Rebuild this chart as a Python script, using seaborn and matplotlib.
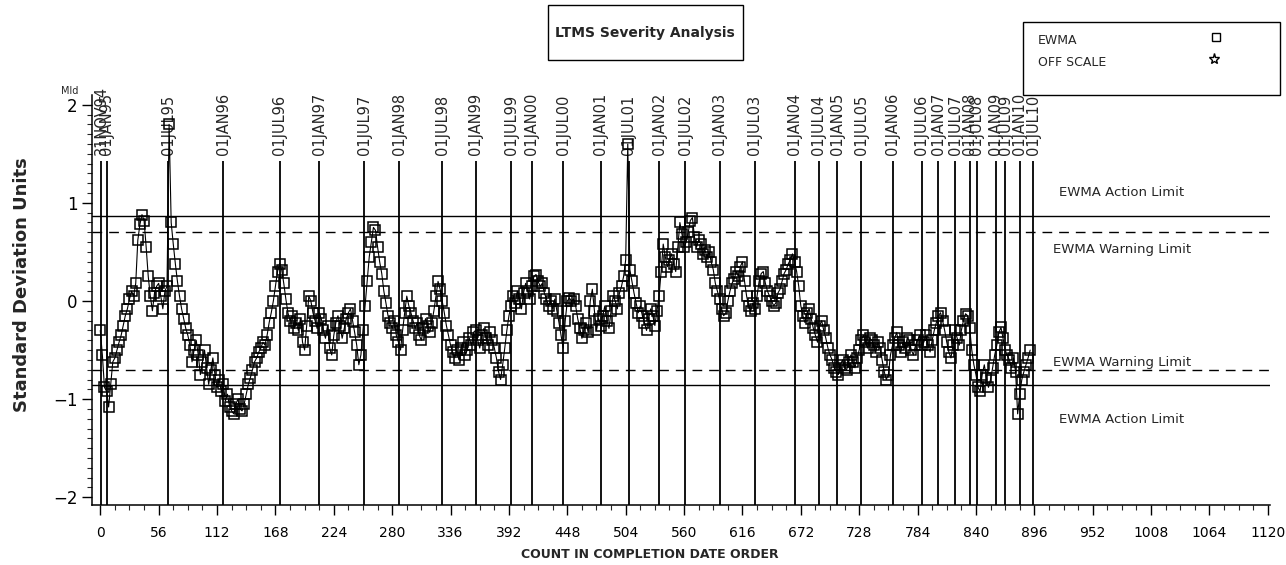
import pandas as pd
import seaborn as sns
import matplotlib.pyplot as plt
from matplotlib.lines import Line2D
from matplotlib.patches import Rectangle

# EWMA severity (std dev units), every 2 tests
count = list(range(0, 893, 2))
ewma = [
    # 0 - 38
    -0.30, -0.55, -0.88, -0.92, -1.08, -0.85, -0.62, -0.58, -0.50, -0.42,
    -0.35, -0.25, -0.15, -0.08, 0.02, 0.10, 0.05, 0.18, 0.62, 0.78,
    # 40 - 78 (spike at 66)
    0.88, 0.82, 0.55, 0.25, 0.05, -0.10, 0.08, 0.15, 0.18, 0.05,
    -0.08, 0.10, 0.15, 1.80, 0.80, 0.58, 0.38, 0.20, 0.05, -0.08,
    # 80 - 118
    -0.18, -0.28, -0.35, -0.45, -0.62, -0.50, -0.40, -0.55, -0.75, -0.62,
    -0.50, -0.68, -0.85, -0.70, -0.58, -0.75, -0.88, -0.80, -0.92, -0.85,
    # 120 - 158
    -1.02, -0.95, -1.08, -1.12, -1.15, -1.05, -1.00, -1.10, -1.12, -1.05,
    -0.95, -0.85, -0.78, -0.70, -0.62, -0.58, -0.52, -0.48, -0.42, -0.45,
    # 160 - 198
    -0.35, -0.22, -0.12, 0.00, 0.15, 0.30, 0.38, 0.32, 0.18, 0.02,
    -0.12, -0.20, -0.15, -0.28, -0.22, -0.30, -0.18, -0.42, -0.50, -0.25,
    # 200 - 238
    0.05, 0.00, -0.12, -0.20, -0.28, -0.12, -0.18, -0.30, -0.38, -0.25,
    -0.48, -0.55, -0.35, -0.22, -0.15, -0.25, -0.38, -0.28, -0.18, -0.12,
    # 240 - 278
    -0.08, -0.20, -0.32, -0.45, -0.65, -0.55, -0.30, -0.05, 0.20, 0.45,
    0.60, 0.75, 0.72, 0.55, 0.40, 0.28, 0.10, -0.02, -0.15, -0.22,
    # 280 - 318
    -0.28, -0.20, -0.35, -0.42, -0.50, -0.30, -0.12, 0.05, -0.05, -0.12,
    -0.20, -0.28, -0.22, -0.35, -0.40, -0.28, -0.18, -0.25, -0.32, -0.22,
    # 320 - 358
    -0.10, 0.05, 0.20, 0.12, 0.00, -0.12, -0.25, -0.35, -0.45, -0.52,
    -0.58, -0.50, -0.60, -0.48, -0.42, -0.55, -0.50, -0.38, -0.45, -0.32,
    # 360 - 398
    -0.30, -0.40, -0.48, -0.35, -0.28, -0.38, -0.45, -0.32, -0.40, -0.48,
    -0.58, -0.72, -0.80, -0.65, -0.48, -0.30, -0.15, -0.05, 0.05, -0.02,
    # 400 - 438
    0.10, 0.02, -0.08, 0.08, 0.18, 0.10, 0.02, 0.15, 0.25, 0.27,
    0.20, 0.15, 0.18, 0.08, 0.02, -0.05, 0.00, -0.08, 0.02, -0.10,
    # 440 - 478
    -0.22, -0.35, -0.48, -0.20, 0.00, 0.03, 0.00, 0.02, -0.05, -0.18,
    -0.28, -0.38, -0.30, -0.22, -0.32, 0.00, 0.12, -0.10, -0.30, -0.18,
    # 480 - 518 (spike at 506)
    -0.25, -0.15, -0.05, -0.20, -0.28, -0.10, 0.05, 0.00, -0.08, 0.08,
    0.15, 0.25, 0.42, 1.60, 0.32, 0.20, 0.08, -0.02, -0.12, -0.05,
    # 520 - 558
    -0.15, -0.22, -0.30, -0.18, -0.08, -0.15, -0.25, -0.10, 0.05, 0.30,
    0.58, 0.45, 0.35, 0.42, 0.48, 0.38, 0.30, 0.55, 0.80, 0.68,
    # 560 - 598
    0.55, 0.60, 0.70, 0.82, 0.85, 0.65, 0.55, 0.62, 0.58, 0.48,
    0.52, 0.45, 0.50, 0.40, 0.32, 0.18, 0.10, 0.02, -0.08, -0.15,
    # 600 - 638
    -0.12, 0.00, 0.10, 0.18, 0.22, 0.30, 0.25, 0.35, 0.40, 0.20,
    0.05, -0.05, -0.10, -0.02, -0.08, 0.05, 0.20, 0.28, 0.30, 0.18,
    # 640 - 678
    0.10, 0.05, 0.00, -0.05, -0.02, 0.08, 0.12, 0.20, 0.28, 0.32,
    0.38, 0.42, 0.48, 0.40, 0.30, 0.15, -0.05, -0.15, -0.22, -0.12,
    # 680 - 718
    -0.08, -0.18, -0.28, -0.35, -0.42, -0.25, -0.20, -0.30, -0.38, -0.48,
    -0.55, -0.60, -0.68, -0.72, -0.75, -0.65, -0.60, -0.68, -0.70, -0.62,
    # 720 - 758
    -0.55, -0.62, -0.68, -0.58, -0.50, -0.40, -0.35, -0.42, -0.48, -0.38,
    -0.40, -0.45, -0.52, -0.42, -0.48, -0.60, -0.72, -0.80, -0.75, -0.55,
    # 760 - 798
    -0.45, -0.38, -0.32, -0.45, -0.52, -0.42, -0.48, -0.38, -0.40, -0.50,
    -0.55, -0.45, -0.40, -0.35, -0.45, -0.42, -0.35, -0.45, -0.52, -0.40,
    # 800 - 838
    -0.30, -0.22, -0.15, -0.12, -0.20, -0.30, -0.42, -0.52, -0.58, -0.45,
    -0.30, -0.38, -0.45, -0.30, -0.20, -0.13, -0.15, -0.28, -0.50, -0.65,
    # 840 - 878
    -0.75, -0.88, -0.92, -0.75, -0.65, -0.78, -0.88, -0.80, -0.68, -0.55,
    -0.45, -0.32, -0.27, -0.38, -0.50, -0.55, -0.60, -0.68, -0.58, -0.72,
    # 880 - 892
    -1.15, -0.95, -0.80, -0.72, -0.65, -0.58, -0.50,
]

# calendar reference lines
date_count = [1, 6, 65, 118, 172, 210, 253, 287, 328, 360, 394, 414, 444,
              480, 507, 536, 561, 594, 628, 666, 689, 707, 730, 760, 788,
              804, 820, 834, 841, 859, 868, 882, 895]
date_label = ['31NOV94', '01JAN95', '01JUL95', '01JAN96', '01JUL96', '01JAN97',
              '01JUL97', '01JAN98', '01JUL98', '01JAN99', '01JUL99', '01JAN00',
              '01JUL00', '01JAN01', '01JUL01', '01JAN02', '01JUL02', '01JAN03',
              '01JUL03', '01JAN04', '01JUL04', '01JAN05', '01JUL05', '01JAN06',
              '01JUL06', '01JAN07', '01JUL07', '01JAN08', '01JUL08', '01JAN09',
              '01JUL09', '01JAN10', '01JUL10']

limit_value = [0.87, 0.70, -0.70, -0.86]
limit_name = ['EWMA Action Limit', 'EWMA Warning Limit', 'EWMA Warning Limit', 'EWMA Action Limit']
limit_style = ['-', '--', '--', '-']
limit_text_y = [1.11, 0.52, -0.63, -1.21]

x_ticks = list(range(0, 1121, 56))
y_ticks = [-2, -1, 0, 1, 2]

sns.set_style('ticks')
plt.rcParams['font.family'] = ['DejaVu Sans']

fig = plt.figure(figsize=(12.86, 5.65), dpi=100)
ax = fig.add_axes([0.0715, 0.106, 0.916, 0.726])

df = pd.DataFrame({'count': count, 'ewma': ewma})

# date lines behind the data
ax.vlines(date_count, -2.08, 1.43, color='black', lw=1.3, zorder=1)
for x, lab in zip(date_count, date_label):
    ax.text(x, 1.49, lab, rotation=90, ha='center', va='bottom', fontsize=10.5)

for v, st in zip(limit_value, limit_style):
    if st == '--':
        ax.axhline(v, color='black', lw=1, ls=(0, (7, 5)), zorder=1)
    else:
        ax.axhline(v, color='black', lw=1, zorder=1)
for name, ty in zip(limit_name, limit_text_y):
    ax.text(980, ty, name, ha='center', va='center', fontsize=9.5)

sns.lineplot(data=df, x='count', y='ewma', ax=ax, estimator=None, color='black',
             linewidth=0.8, marker='s', markersize=6.5, markerfacecolor='none',
             markeredgecolor='black', markeredgewidth=1.1, zorder=3)

ax.set_xlim(-8, 1122)
ax.set_ylim(-2.08, 2.1)
ax.set_xticks(x_ticks)
ax.set_xticks(list(range(0, 1121, 14)), minor=True)
ax.set_yticks(y_ticks)
ax.set_yticks([i / 10 for i in range(-20, 21)], minor=True)
ax.tick_params(axis='both', which='major', direction='out', length=7, width=1, colors='black')
ax.tick_params(axis='both', which='minor', direction='out', length=3.5, width=0.8)
ax.tick_params(axis='x', labelsize=10, pad=8)
ax.tick_params(axis='y', labelsize=12)
sns.despine(ax=ax)
for s in ['left', 'bottom']:
    ax.spines[s].set_color('black')
    ax.spines[s].set_linewidth(1.1)

ax.set_ylabel('')
ax.set_xlabel('COUNT IN COMPLETION DATE ORDER', fontsize=9, fontweight='bold')
ax.xaxis.set_label_coords(0.474, -0.105)
ax.text(-0.019, 0.997, 'Mld', transform=ax.transAxes, fontsize=7, ha='center', va='bottom')

fig.text(22 / 1286, 1 - 285 / 565, 'Standard Deviation Units', rotation=90,
         ha='center', va='center', fontsize=13, fontweight='bold')

# title box
fig.add_artist(Rectangle((548 / 1286, 1 - 60 / 565), 195 / 1286, 55 / 565,
                         transform=fig.transFigure, fill=False, edgecolor='black', lw=1))
fig.text(645 / 1286, 1 - 33 / 565, 'LTMS Severity Analysis', ha='center', va='center',
         fontsize=10, fontweight='bold')

# legend box
fig.add_artist(Rectangle((1023 / 1286, 1 - 95 / 565), 257 / 1286, 73 / 565,
                         transform=fig.transFigure, fill=False, edgecolor='black', lw=1))
fig.text(1038 / 1286, 1 - 40 / 565, 'EWMA', ha='left', va='center', fontsize=9)
fig.text(1038 / 1286, 1 - 62 / 565, 'OFF SCALE', ha='left', va='center', fontsize=9)
fig.add_artist(Line2D([1216 / 1286], [1 - 37 / 565], marker='s', markersize=6,
                      markerfacecolor='none', markeredgecolor='black', transform=fig.transFigure))
fig.add_artist(Line2D([1214 / 1286], [1 - 59 / 565], marker='*', markersize=8,
                      markerfacecolor='none', markeredgecolor='black', transform=fig.transFigure))

fig.savefig('out.png', dpi=100)
